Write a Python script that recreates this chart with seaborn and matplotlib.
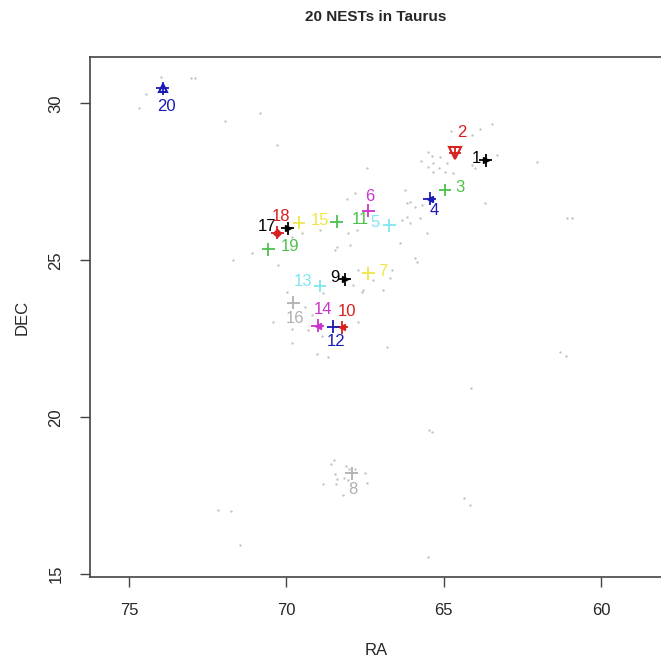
import matplotlib
matplotlib.use("Agg")
import matplotlib.pyplot as plt
import pandas as pd
import seaborn as sns

# NEST centres (RA, DEC in degrees)
nest_id = list(range(1, 21))
nest_ra = [63.66, 64.64, 64.96, 65.44, 66.73, 67.40, 67.40, 67.92, 68.14, 68.24,
           68.40, 68.51, 68.93, 69.00, 69.60, 69.78, 69.96, 70.29, 70.57, 73.93]
nest_dec = [28.19, 28.42, 27.24, 26.97, 26.12, 26.58, 24.59, 18.22, 24.39, 22.87,
            26.23, 22.89, 24.18, 22.92, 26.20, 23.65, 26.02, 25.88, 25.35, 30.48]

# where each number label sits
label_ra = [63.95, 64.42, 64.48, 65.30, 67.18, 67.34, 66.92, 67.90, 68.45, 68.08,
            67.66, 68.43, 69.46, 68.83, 68.93, 69.73, 70.62, 70.17, 69.88, 73.80]
label_dec = [28.25, 29.06, 27.31, 26.60, 26.20, 27.05, 24.64, 17.69, 24.46, 23.36,
             26.31, 22.41, 24.34, 23.42, 26.26, 23.15, 26.09, 26.39, 25.43, 29.91]

# background stars (small grey dots)
bg_ra = [73.98, 73.03, 72.90, 74.46, 74.68, 71.95, 70.84, 70.30, 63.47, 63.85,
         64.77, 64.10, 65.50, 65.37, 65.72, 65.34, 65.12, 64.90, 65.15, 65.50,
         64.10, 64.01, 63.31, 62.04, 65.34, 64.96, 64.70, 63.69, 66.23, 66.07,
         66.33, 65.91, 66.16, 65.69, 67.82, 68.07, 66.16, 65.75, 65.53, 66.07,
         67.76, 68.04, 68.93, 69.50, 69.82, 68.39, 68.45, 67.98, 71.09, 71.70,
         70.27, 67.72, 66.64, 66.71, 65.91, 65.85, 67.25, 67.88, 67.56, 66.93,
         69.98, 66.39, 68.83, 67.60, 69.41, 69.18, 70.42, 67.72, 69.82, 68.87,
         69.82, 66.80, 69.03, 68.68, 69.31, 68.49, 68.58, 68.10, 68.01, 67.82,
         67.50, 68.45, 68.39, 68.17, 68.04, 67.44, 68.83, 68.42, 68.20, 72.17,
         71.76, 71.47, 65.47, 65.37, 64.35, 64.16, 65.50, 61.08, 60.92, 61.30,
         61.11, 64.13, 67.44]
bg_dec = [30.84, 30.81, 30.81, 30.30, 29.85, 29.44, 29.69, 28.67, 29.34, 29.18,
          29.12, 28.99, 28.45, 28.32, 28.16, 28.10, 28.29, 28.10, 27.94, 27.97,
          28.04, 27.94, 28.35, 28.13, 27.81, 27.81, 27.78, 26.83, 27.24, 26.86,
          26.28, 26.70, 26.38, 26.76, 27.14, 26.95, 26.83, 26.35, 25.87, 26.19,
          25.97, 25.87, 25.97, 25.87, 25.74, 25.42, 25.33, 25.49, 25.23, 25.01,
          24.85, 24.69, 24.69, 24.44, 25.07, 24.95, 24.37, 24.21, 24.05, 24.05,
          23.99, 25.55, 23.96, 23.99, 23.51, 23.26, 23.04, 23.04, 22.82, 22.59,
          22.37, 22.24, 22.02, 21.92, 22.78, 18.64, 18.51, 18.45, 18.35, 18.35,
          18.23, 18.19, 18.04, 18.07, 18.00, 17.91, 17.88, 17.88, 17.53, 17.05,
          17.02, 15.93, 19.60, 19.53, 17.43, 17.21, 15.55, 26.35, 26.35, 22.08,
          21.95, 20.93, 27.94]

# R's default palette, cycled over the 20 NESTs
r_palette = ["black", "#d62020", "#4cc24c", "#1a1ab4",
             "#7fe6f0", "#cc33cc", "#efe64a", "#b0b0b0"]
colors = [r_palette[(i - 1) % 8] for i in nest_id]

# extra little glyph drawn next to some crosses
extra_marker = {1: ">", 2: "v", 4: "<", 9: ">", 10: "<", 14: "<",
                17: ">", 18: "D", 20: "^"}

nests = pd.DataFrame({"id": [str(i) for i in nest_id], "RA": nest_ra, "DEC": nest_dec})
stars = pd.DataFrame({"RA": bg_ra, "DEC": bg_dec})

sns.set_theme(style="ticks")
plt.rcParams["font.family"] = ["Liberation Sans", "DejaVu Sans"]

fig = plt.figure(figsize=(6.61, 6.61), dpi=100)
ax = fig.add_axes([90 / 661, 84 / 661, 572 / 661, 519.7 / 661])

sns.scatterplot(data=stars, x="RA", y="DEC", ax=ax, color="#c4c4c4", s=3,
                linewidth=0, legend=False)
sns.scatterplot(data=nests, x="RA", y="DEC", hue="id", palette=colors, ax=ax,
                marker="+", s=85, linewidth=1.3, legend=False, zorder=3)

for i, ra, dec, c in zip(nest_id, nest_ra, nest_dec, colors):
    m = extra_marker.get(i)
    if m is None:
        continue
    if m == "v":
        ax.plot(ra, dec, marker=m, ms=9, mfc="none", mec=c, mew=1.5, zorder=4)
    elif m == "^":
        ax.plot(ra, dec, marker=m, ms=6, mfc="none", mec=c, mew=1.5, zorder=4)
    else:
        ax.plot(ra, dec, marker=m, ms=4, color=c, zorder=4)

for i, ra, dec, c in zip(nest_id, label_ra, label_dec, colors):
    ax.text(ra, dec, str(i), color=c, fontsize=12, ha="center", va="center", zorder=5)

ax.set_xlim(76.24, 58.06)
ax.set_ylim(14.91, 31.47)
ax.set_xticks([75, 70, 65, 60])
ax.set_yticks([15, 20, 25, 30])
ax.tick_params(axis="both", length=7, width=1, color="#444444", labelsize=12,
               pad=12, direction="out")
for lab in ax.get_yticklabels():
    lab.set_rotation(90)
    lab.set_va("center")
for sp in ax.spines.values():
    sp.set_visible(True)
    sp.set_color("#444444")
    sp.set_linewidth(1.2)

ax.set_xlabel("RA", fontsize=12, labelpad=18)
ax.set_ylabel("DEC", fontsize=12, labelpad=14)
fig.text(376 / 661, 1 - 17 / 661, "20 NESTs in Taurus", ha="center", va="center",
         fontsize=11, fontweight="bold")

fig.savefig("out.png", dpi=100)
